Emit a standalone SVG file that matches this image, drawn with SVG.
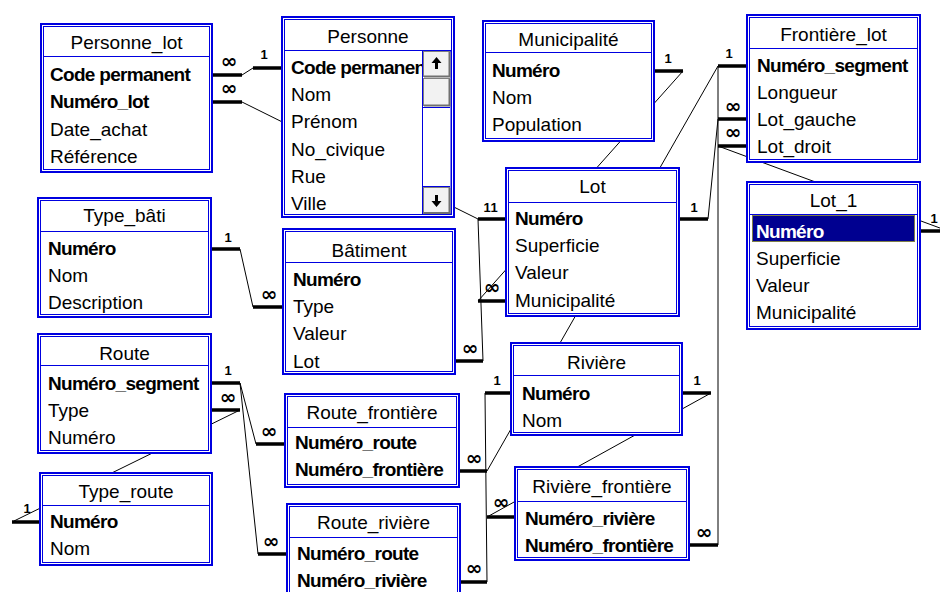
<svg xmlns="http://www.w3.org/2000/svg" width="940" height="592" viewBox="0 0 940 592">
<style>
.o{fill:#fff;stroke:#0000e0;stroke-width:2}
.i{fill:none;stroke:#0000e0;stroke-width:1}
.s{stroke:#0000e0;stroke-width:1}
.t{font-family:"Liberation Sans",Arial,sans-serif;font-size:19px;fill:#000}
.ti{text-anchor:middle}
.b{font-weight:bold;letter-spacing:-0.7px}
.k{stroke:#000;stroke-width:3.5;fill:none}
.n{stroke:#000;stroke-width:1;fill:none}
.inf{font-family:"DejaVu Sans",sans-serif;font-weight:bold;font-size:20px;text-anchor:middle;fill:#000}
.one{font-family:"Liberation Sans",Arial,sans-serif;font-weight:bold;font-size:13px;text-anchor:middle;fill:#000}
.btn{fill:#f2f2f2;stroke:#808080;stroke-width:1}
</style>
<rect width="940" height="592" fill="#fff"/>
<g id="connectors">
<path class="k" d="M213 75H242M253 68H281"/><path class="n" d="M242 75L253 68"/>
<path class="k" d="M213 102H242M478 219H505"/><path class="n" d="M242 102L478 219"/>
<path class="k" d="M456 361H483"/><path class="n" d="M483 361L478 219"/>
<path class="k" d="M655 71H683M478 301H505"/><path class="n" d="M683 71L478 301"/>
<path class="k" d="M212 249H240M253 307H282"/><path class="n" d="M240 249L253 307"/>
<path class="k" d="M718 66H746M460 471H487"/><path class="n" d="M718 66L487 471"/>
<path class="k" d="M690 545H718"/><path class="n" d="M718 66V545"/>
<path class="k" d="M680 219H708M718 119H746"/><path class="n" d="M708 219L718 119"/>
<path class="k" d="M921 231H948M718 146H746"/><path class="n" d="M948 231L718 146"/>
<path class="k" d="M485 393H510M461 582H487"/><path class="n" d="M485 393L487 582"/>
<path class="k" d="M683 393H711M487 517H514"/><path class="n" d="M711 393L487 517"/>
<path class="k" d="M212 383H240M256 444H284"/><path class="n" d="M240 383L256 444"/>
<path class="k" d="M258 554H286"/><path class="n" d="M240 383L258 554"/>
<path class="k" d="M212 410H240M12 522H39"/><path class="n" d="M240 410L14 521"/>
<text class="inf" x="229" y="68">∞</text><text class="one" x="264" y="59">1</text>
<text class="inf" x="229" y="95">∞</text><text class="one" x="487" y="212">1</text>
<text class="inf" x="470" y="355">∞</text><text class="one" x="494" y="212">1</text>
<text class="one" x="668" y="63">1</text><text class="inf" x="492" y="294">∞</text>
<text class="one" x="228" y="242">1</text><text class="inf" x="269" y="301">∞</text>
<text class="one" x="729" y="58">1</text><text class="inf" x="474" y="465">∞</text>
<text class="inf" x="704" y="539">∞</text>
<text class="one" x="694" y="212">1</text><text class="inf" x="733" y="113">∞</text>
<text class="one" x="934" y="223">1</text><text class="inf" x="733" y="139">∞</text>
<text class="one" x="497" y="385">1</text><text class="inf" x="474" y="575">∞</text>
<text class="one" x="697" y="385">1</text><text class="inf" x="501" y="509">∞</text>
<text class="one" x="228" y="375">1</text><text class="inf" x="269" y="438">∞</text>
<text class="inf" x="271" y="548">∞</text>
<text class="inf" x="228" y="404">∞</text><text class="one" x="27" y="513">1</text>
</g>
<g id="Personne_lot">
<rect class="o" x="41" y="24" width="171" height="148"/><rect class="i" x="43.5" y="26.5" width="166" height="143"/>
<line class="s" x1="43.5" x2="209.5" y1="56.5" y2="56.5"/>
<text class="t ti" x="126.5" y="49">Personne_lot</text>
<text class="t b" x="50" y="81">Code permanent</text>
<text class="t b" x="50" y="108">Numéro_lot</text>
<text class="t" x="50" y="136">Date_achat</text>
<text class="t" x="50" y="163">Référence</text>
</g>
<g id="Personne">
<rect class="o" x="282" y="17" width="172" height="200"/><rect class="i" x="284.5" y="19.5" width="167" height="195"/>
<line class="s" x1="284.5" x2="451.5" y1="50.5" y2="50.5"/>
<text class="t ti" x="368" y="43">Personne</text>
<text class="t b" x="291" y="74">Code permanent</text>
<text class="t" x="291" y="101">Nom</text>
<text class="t" x="291" y="128">Prénom</text>
<text class="t" x="291" y="156">No_civique</text>
<text class="t" x="291" y="183">Rue</text>
<text class="t" x="291" y="210">Ville</text>
<rect x="422.5" y="51" width="28.5" height="163" fill="#fff" stroke="#0000e0" stroke-width="1"/>
<rect class="btn" x="423.5" y="51.5" width="26" height="25"/>
<path d="M424 76.5H449.5V52" stroke="#707070" stroke-width="2" fill="none"/>
<path d="M436.5 57L431.5 63H435V69H438V63H441.5Z" fill="#000"/>
<rect class="btn" x="423.5" y="78.5" width="26" height="27"/>
<path d="M424 105.5H449.5V79" stroke="#707070" stroke-width="2" fill="none"/>
<line class="s" x1="423" x2="450" y1="107.5" y2="107.5"/>
<line class="s" x1="423" x2="450" y1="186.5" y2="186.5"/>
<rect class="btn" x="423.5" y="187.5" width="26" height="26"/>
<path d="M424 213H449.5V188" stroke="#707070" stroke-width="2" fill="none"/>
<path d="M436.5 207L431.5 201H435V195H438V201H441.5Z" fill="#000"/>
</g>
<g id="Municipalite">
<rect class="o" x="483" y="21" width="171" height="120"/><rect class="i" x="485.5" y="23.5" width="166" height="115"/>
<line class="s" x1="485.5" x2="651.5" y1="52.5" y2="52.5"/>
<text class="t ti" x="568.5" y="46">Municipalité</text>
<text class="t b" x="492" y="77">Numéro</text>
<text class="t" x="492" y="104">Nom</text>
<text class="t" x="492" y="131">Population</text>
</g>
<g id="Frontiere_lot">
<rect class="o" x="747" y="15" width="173" height="147"/><rect class="i" x="749.5" y="17.5" width="168" height="142"/>
<line class="s" x1="749.5" x2="917.5" y1="48.5" y2="48.5"/>
<text class="t ti" x="833.5" y="41">Frontière_lot</text>
<text class="t b" x="757" y="72">Numéro_segment</text>
<text class="t" x="757" y="99">Longueur</text>
<text class="t" x="757" y="126">Lot_gauche</text>
<text class="t" x="757" y="153">Lot_droit</text>
</g>
<g id="Type_bati">
<rect class="o" x="38" y="198" width="173" height="119"/><rect class="i" x="40.5" y="200.5" width="168" height="114"/>
<line class="s" x1="40.5" x2="208.5" y1="231.5" y2="231.5"/>
<text class="t ti" x="124.5" y="222">Type_bâti</text>
<text class="t b" x="48" y="255">Numéro</text>
<text class="t" x="48" y="282">Nom</text>
<text class="t" x="48" y="309">Description</text>
</g>
<g id="Batiment">
<rect class="o" x="283" y="229" width="172" height="145"/><rect class="i" x="285.5" y="231.5" width="167" height="140"/>
<line class="s" x1="285.5" x2="452.5" y1="262.5" y2="262.5"/>
<text class="t ti" x="369" y="257">Bâtiment</text>
<text class="t b" x="293" y="286">Numéro</text>
<text class="t" x="293" y="313">Type</text>
<text class="t" x="293" y="340">Valeur</text>
<text class="t" x="293" y="368">Lot</text>
</g>
<g id="Lot">
<rect class="o" x="506" y="168" width="173" height="148"/><rect class="i" x="508.5" y="170.5" width="168" height="143"/>
<line class="s" x1="508.5" x2="676.5" y1="202.5" y2="202.5"/>
<text class="t ti" x="592.5" y="193">Lot</text>
<text class="t b" x="515" y="225">Numéro</text>
<text class="t" x="515" y="252">Superficie</text>
<text class="t" x="515" y="279">Valeur</text>
<text class="t" x="515" y="307">Municipalité</text>
</g>
<g id="Lot_1">
<rect class="o" x="747" y="182" width="173" height="147"/><rect class="i" x="749.5" y="184.5" width="168" height="142"/>
<line class="s" x1="749.5" x2="917.5" y1="214.5" y2="214.5"/>
<text class="t ti" x="833.5" y="207">Lot_1</text>
<rect x="752" y="215" width="163" height="27" fill="#000090"/>
<rect x="752.5" y="215.5" width="162" height="26" fill="none" stroke="#ffff00" stroke-width="1" stroke-dasharray="1 1"/>
<text class="t b" x="756" y="238" fill="#fff" style="fill:#fff">Numéro</text>
<text class="t" x="756" y="265">Superficie</text>
<text class="t" x="756" y="292">Valeur</text>
<text class="t" x="756" y="319">Municipalité</text>
</g>
<g id="Route">
<rect class="o" x="38" y="334" width="173" height="119"/><rect class="i" x="40.5" y="336.5" width="168" height="114"/>
<line class="s" x1="40.5" x2="208.5" y1="365.5" y2="365.5"/>
<text class="t ti" x="124.5" y="360">Route</text>
<text class="t b" x="48" y="390">Numéro_segment</text>
<text class="t" x="48" y="417">Type</text>
<text class="t" x="48" y="444">Numéro</text>
</g>
<g id="Type_route">
<rect class="o" x="40" y="473" width="172" height="92"/><rect class="i" x="42.5" y="475.5" width="167" height="87"/>
<line class="s" x1="42.5" x2="209.5" y1="505.5" y2="505.5"/>
<text class="t ti" x="126" y="498">Type_route</text>
<text class="t b" x="50" y="528">Numéro</text>
<text class="t" x="50" y="555">Nom</text>
</g>
<g id="Route_frontiere">
<rect class="o" x="285" y="394" width="174" height="93"/><rect class="i" x="287.5" y="396.5" width="169" height="88"/>
<line class="s" x1="287.5" x2="456.5" y1="427.5" y2="427.5"/>
<text class="t ti" x="372" y="419">Route_frontière</text>
<text class="t b" x="295" y="449">Numéro_route</text>
<text class="t b" x="295" y="476">Numéro_frontière</text>
</g>
<g id="Route_riviere">
<rect class="o" x="287" y="504" width="173" height="95"/><rect class="i" x="289.5" y="506.5" width="168" height="90"/>
<line class="s" x1="289.5" x2="457.5" y1="537.5" y2="537.5"/>
<text class="t ti" x="373.5" y="529">Route_rivière</text>
<text class="t b" x="297" y="560">Numéro_route</text>
<text class="t b" x="297" y="587">Numéro_rivière</text>
</g>
<g id="Riviere">
<rect class="o" x="511" y="343" width="171" height="92"/><rect class="i" x="513.5" y="345.5" width="166" height="87"/>
<line class="s" x1="513.5" x2="679.5" y1="375.5" y2="375.5"/>
<text class="t ti" x="596.5" y="369">Rivière</text>
<text class="t b" x="522" y="400">Numéro</text>
<text class="t" x="522" y="427">Nom</text>
</g>
<g id="Riviere_frontiere">
<rect class="o" x="515" y="467" width="174" height="93"/><rect class="i" x="517.5" y="469.5" width="169" height="88"/>
<line class="s" x1="517.5" x2="686.5" y1="501.5" y2="501.5"/>
<text class="t ti" x="602" y="493">Rivière_frontière</text>
<text class="t b" x="525" y="525">Numéro_rivière</text>
<text class="t b" x="525" y="552">Numéro_frontière</text>
</g>
</svg>
